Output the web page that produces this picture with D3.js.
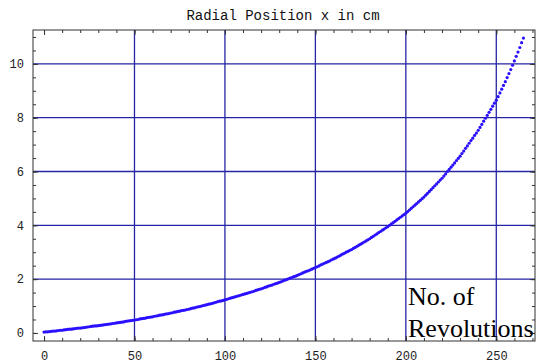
<!DOCTYPE html>
<html>
<head>
<meta charset="utf-8">
<script src="https://cdn.jsdelivr.net/npm/d3@7"></script>
<style>
  html, body { margin: 0; padding: 0; background: #fff; }
  svg { display: block; }
</style>
</head>
<body>
<svg id="chart" width="536" height="364"></svg>
<script>
// Radial position x (cm) after each revolution, starting at revolution 0
const radialPosition = [
  0.03, 0.04, 0.04, 0.05, 0.06, 0.07, 0.07, 0.08, 0.09, 0.10,
  0.10, 0.11, 0.12, 0.13, 0.14, 0.14, 0.15, 0.16, 0.17, 0.18,
  0.18, 0.19, 0.20, 0.21, 0.22, 0.23, 0.24, 0.25, 0.26, 0.26,
  0.27, 0.28, 0.29, 0.30, 0.31, 0.32, 0.33, 0.34, 0.35, 0.36,
  0.37, 0.38, 0.39, 0.40, 0.41, 0.43, 0.44, 0.45, 0.46, 0.47,
  0.48, 0.49, 0.50, 0.52, 0.53, 0.54, 0.55, 0.57, 0.58, 0.59,
  0.60, 0.62, 0.63, 0.64, 0.66, 0.67, 0.68, 0.70, 0.71, 0.72,
  0.74, 0.75, 0.77, 0.78, 0.80, 0.81, 0.83, 0.84, 0.85, 0.87,
  0.88, 0.90, 0.92, 0.93, 0.95, 0.97, 0.98, 1.00, 1.02, 1.03,
  1.05, 1.07, 1.08, 1.10, 1.12, 1.14, 1.16, 1.18, 1.19, 1.21,
  1.23, 1.25, 1.27, 1.29, 1.31, 1.33, 1.35, 1.37, 1.39, 1.41,
  1.43, 1.45, 1.47, 1.49, 1.51, 1.53, 1.55, 1.58, 1.60, 1.62,
  1.64, 1.66, 1.69, 1.71, 1.74, 1.76, 1.78, 1.81, 1.83, 1.85,
  1.88, 1.90, 1.93, 1.96, 1.98, 2.01, 2.04, 2.06, 2.09, 2.11,
  2.14, 2.17, 2.20, 2.23, 2.26, 2.29, 2.31, 2.34, 2.37, 2.40,
  2.43, 2.46, 2.49, 2.53, 2.56, 2.59, 2.62, 2.65, 2.68, 2.72,
  2.75, 2.78, 2.82, 2.85, 2.89, 2.93, 2.96, 3.00, 3.03, 3.07,
  3.10, 3.14, 3.18, 3.22, 3.26, 3.30, 3.34, 3.38, 3.42, 3.46,
  3.50, 3.55, 3.59, 3.64, 3.68, 3.73, 3.77, 3.82, 3.86, 3.91,
  3.95, 4.00, 4.05, 4.10, 4.15, 4.20, 4.25, 4.30, 4.35, 4.40,
  4.45, 4.51, 4.57, 4.63, 4.69, 4.75, 4.81, 4.87, 4.93, 4.99,
  5.05, 5.12, 5.19, 5.26, 5.33, 5.40, 5.47, 5.54, 5.61, 5.68,
  5.75, 5.83, 5.91, 6.00, 6.08, 6.16, 6.24, 6.32, 6.41, 6.49,
  6.57, 6.67, 6.76, 6.86, 6.95, 7.05, 7.15, 7.24, 7.34, 7.43,
  7.53, 7.64, 7.75, 7.87, 7.98, 8.09, 8.20, 8.31, 8.43, 8.54,
  8.65, 8.78, 8.92, 9.06, 9.20, 9.34, 9.49, 9.64, 9.79, 9.95,
  10.11, 10.28, 10.44, 10.61, 10.79, 10.96
];

const xMajorTicks = [0, 50, 100, 150, 200, 250];
const xMinorTicks = [0, 10, 20, 30, 40, 50, 60, 70, 80, 90, 100, 110, 120, 130,
  140, 150, 160, 170, 180, 190, 200, 210, 220, 230, 240, 250, 260, 270];
const yMajorTicks = [0, 2, 4, 6, 8, 10];
const yMinorTicks = [0, 0.5, 1, 1.5, 2, 2.5, 3, 3.5, 4, 4.5, 5, 5.5, 6, 6.5,
  7, 7.5, 8, 8.5, 9, 9.5, 10, 10.5, 11];
const xGridLines = [50, 100, 150, 200, 250];
const yGridLines = [2, 4, 6, 8, 10];

const titleText = "Radial Position x in cm";
const xLabelLines = ["No. of", "Revolutions"];

const svg = d3.select("#chart");
const frame = { left: 33, right: 535, top: 30, bottom: 341 };

const x = d3.scaleLinear().domain([-6.1, 271.4]).range([frame.left, frame.right]);
const y = d3.scaleLinear().domain([-0.3, 11.26]).range([frame.bottom, frame.top]);

const gridColor = "#2525a5";
const frameColor = "#333";
const monoFont = "'Liberation Mono', 'DejaVu Sans Mono', monospace";

// grid lines
svg.append("g")
  .selectAll("line.vgrid")
  .data(xGridLines)
  .join("line")
  .attr("x1", d => x(d)).attr("x2", d => x(d))
  .attr("y1", frame.top).attr("y2", frame.bottom)
  .attr("stroke", gridColor).attr("stroke-width", 1.3);

svg.append("g")
  .selectAll("line.hgrid")
  .data(yGridLines)
  .join("line")
  .attr("x1", frame.left).attr("x2", frame.right)
  .attr("y1", d => y(d)).attr("y2", d => y(d))
  .attr("stroke", gridColor).attr("stroke-width", 1.3);

// frame axes: major + minor ticks pointing inward
function styleAxis(g) {
  g.select(".domain").remove();
  g.selectAll(".tick line").attr("stroke", frameColor);
  g.selectAll("text").attr("font-family", monoFont).attr("font-size", 12).attr("fill", "#222");
}

svg.append("g")
  .attr("transform", `translate(0,${frame.bottom})`)
  .call(d3.axisBottom(x).tickValues(xMinorTicks).tickSizeInner(-3).tickSizeOuter(0).tickFormat(""))
  .call(styleAxis);
svg.append("g")
  .attr("transform", `translate(0,${frame.bottom})`)
  .call(d3.axisBottom(x).tickValues(xMajorTicks).tickSizeInner(-5).tickSizeOuter(0).tickPadding(10).tickFormat(d3.format("d")))
  .call(styleAxis);

svg.append("g")
  .attr("transform", `translate(0,${frame.top})`)
  .call(d3.axisTop(x).tickValues(xMinorTicks).tickSizeInner(-3).tickSizeOuter(0).tickFormat(""))
  .call(styleAxis);
svg.append("g")
  .attr("transform", `translate(0,${frame.top})`)
  .call(d3.axisTop(x).tickValues(xMajorTicks).tickSizeInner(-5).tickSizeOuter(0).tickFormat(""))
  .call(styleAxis);

svg.append("g")
  .attr("transform", `translate(${frame.left},0)`)
  .call(d3.axisLeft(y).tickValues(yMinorTicks).tickSizeInner(-3).tickSizeOuter(0).tickFormat(""))
  .call(styleAxis);
svg.append("g")
  .attr("transform", `translate(${frame.left},0)`)
  .call(d3.axisLeft(y).tickValues(yMajorTicks).tickSizeInner(-5).tickSizeOuter(0).tickPadding(9).tickFormat(d3.format("d")))
  .call(styleAxis);

svg.append("g")
  .attr("transform", `translate(${frame.right},0)`)
  .call(d3.axisRight(y).tickValues(yMinorTicks).tickSizeInner(-3).tickSizeOuter(0).tickFormat(""))
  .call(styleAxis);
svg.append("g")
  .attr("transform", `translate(${frame.right},0)`)
  .call(d3.axisRight(y).tickValues(yMajorTicks).tickSizeInner(-5).tickSizeOuter(0).tickFormat(""))
  .call(styleAxis);

// frame
svg.append("rect")
  .attr("x", frame.left).attr("y", frame.top)
  .attr("width", frame.right - frame.left).attr("height", frame.bottom - frame.top)
  .attr("fill", "none").attr("stroke", frameColor).attr("stroke-width", 1);

// data points, one per revolution
svg.append("g")
  .selectAll("circle")
  .data(radialPosition)
  .join("circle")
  .attr("cx", (d, i) => x(i))
  .attr("cy", d => y(d))
  .attr("r", 1.6)
  .attr("fill", "#2a10ff");

// title
svg.append("text")
  .attr("x", 283).attr("y", 20)
  .attr("text-anchor", "middle")
  .attr("font-family", monoFont)
  .attr("font-size", 14)
  .attr("fill", "#111")
  .text(titleText);

// axis caption inside the plot
const cap = svg.append("text")
  .attr("font-family", "'Liberation Serif', 'Times New Roman', serif")
  .attr("font-size", 26)
  .attr("fill", "#000");
cap.selectAll("tspan")
  .data(xLabelLines)
  .join("tspan")
  .attr("x", 408)
  .attr("y", (d, i) => 305 + i * 32)
  .text(d => d);
</script>
</body>
</html>
